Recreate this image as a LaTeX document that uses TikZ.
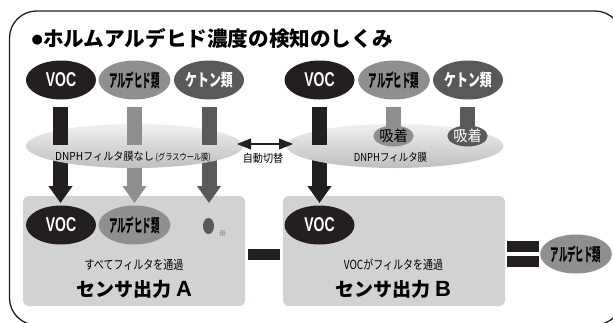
\documentclass[tikz,border=0pt]{standalone}
\usepackage{fontspec}
\setmainfont{Noto Sans CJK JP}
\newfontfamily\latinbold{Liberation Sans}
\newfontfamily\symfont{DejaVu Sans}
\usetikzlibrary{arrows.meta,shapes.geometric}
\definecolor{cdark}{HTML}{231F20}
\definecolor{cmid}{HTML}{8E8F91}
\definecolor{cket}{HTML}{58595B}
\definecolor{cbox}{HTML}{D1D2D4}
\newcommand{\cond}[2]{\scalebox{#1}[1]{#2}}
\newcommand{\lblvoc}{\cond{0.70}{\fontsize{20}{20}\latinbold\bfseries VOC}}
\newcommand{\lblald}{\cond{0.47}{\fontsize{18}{18}\selectfont\bfseries アルデヒド類}}
\newcommand{\lblket}{\cond{0.70}{\fontsize{17}{17}\selectfont\bfseries ケトン類}}
\tikzset{
  x=1pt,y=-1pt,
  pill/.style={ellipse,inner sep=0pt,minimum width=70pt,minimum height=39pt,text centered},
  pvoc/.style={pill,fill=cdark,text=white},
  pald/.style={pill,fill=cmid,text=black},
  pket/.style={pill,fill=cket,text=white},
  filt/.style={ellipse,inner sep=0pt,minimum width=217pt,minimum height=44pt,top color=gray!12,bottom color=gray!50},
  sbox/.style={rectangle,rounded corners=6pt,fill=cbox,inner sep=0pt,minimum width=222pt,minimum height=110pt},
  bar/.style={line width=15pt},
  blockarrow/.style={line width=15pt,-{Triangle[width=23pt,length=17pt]}},
  sorb/.style={ellipse,inner sep=0pt,minimum width=37pt,minimum height=21pt,font=\fontsize{15}{15}\selectfont},
  small/.style={inner sep=0pt,font=\fontsize{11}{11}\selectfont},
  mid/.style={inner sep=0pt,font=\fontsize{12.5}{12.5}\selectfont},
  outp/.style={inner sep=0pt,font=\fontsize{19}{19}\selectfont\bfseries},
  op/.style={fill=cdark,inner sep=0pt,minimum width=32pt}
}
\begin{document}
\begin{tikzpicture}
\useasboundingbox (0,0) rectangle (613,322);
\clip (0,0) rectangle (613,322);
\fill[white] (0,0) rectangle (613,322);
\draw[line width=1.3pt,cdark,rounded corners=27pt] (9.5,11) rectangle (622,325);
\node[anchor=west,inner sep=0pt,font=\fontsize{20.6}{20.6}\selectfont\bfseries] (title) at (31.5,38) {\raisebox{2.5pt}{\symfont\fontsize{13}{13}\selectfont ●}ホルムアルデヒド濃度の検知のしくみ};

% boxes
\node[sbox] (boxa) at (134,251) {};
\node[sbox] (boxb) at (394,251) {};

% free ends
\coordinate (a1s) at (60.5,160); \coordinate (a1e) at (60.5,203);
\coordinate (a2s) at (134.5,160); \coordinate (a2e) at (134.5,203);
\coordinate (a3s) at (209,160); \coordinate (a3e) at (209,203);
\coordinate (b1s) at (319.5,160); \coordinate (b1e) at (319.5,203);
\draw[blockarrow,cdark] (a1s) -- (a1e);
\draw[blockarrow,cmid] (a2s) -- (a2e);
\draw[blockarrow,cket] (a3s) -- (a3e);
\draw[blockarrow,cdark] (b1s) -- (b1e);

% filters
\node[filt] (fa) at (134.5,146) {};
\node[filt] (fb) at (395,146) {};

% top row
\node[pvoc] (v1) at (61,80) {\lblvoc};
\node[pald] (l1) at (134.5,80) {\lblald};
\node[pket] (k1) at (209,80) {\lblket};
\node[pvoc] (v2) at (319.5,80) {\lblvoc};
\node[pald] (l2) at (394,80) {\lblald};
\node[pket] (k2) at (468,80) {\lblket};

% bars
\coordinate (t1) at (60.5,107); \coordinate (t1e) at (60.5,145);
\coordinate (t2) at (134.5,107); \coordinate (t2e) at (134.5,145);
\coordinate (t3) at (209,107); \coordinate (t3e) at (209,145);
\coordinate (t4) at (319.5,107); \coordinate (t4e) at (319.5,145);
\coordinate (t5) at (393.5,107);
\coordinate (t6) at (467.5,107);
\draw[bar,cdark] (t1) -- (t1e);
\draw[bar,cmid] (t2) -- (t2e);
\draw[bar,cket] (t3) -- (t3e);
\draw[bar,cdark] (t4) -- (t4e);

\draw[bar,cmid] (t5) -- (393.5,130);
\draw[bar,cket] (t6) -- (467.5,130);
\node[sorb,fill=cmid,text=black] (s1) at (393.5,136) {\cond{0.95}{吸着}};
\node[sorb,fill=cket,text=white] (s2) at (467.5,136) {\cond{0.95}{吸着}};

% filter labels
\node[small] (fla) at (133,157) {\cond{0.92}{DNPHフィルタ膜なし}\,\cond{0.8}{\fontsize{9}{9}\selectfont (グラスウール膜)}};
\node[small] (flb) at (390.5,157) {\cond{0.86}{DNPHフィルタ膜}};

% switch
\coordinate (swl) at (237,144); \coordinate (swr) at (293,144);
\draw[line width=1.2pt,cdark,{Triangle[width=11pt,length=14pt]}-{Triangle[width=11pt,length=14pt]}] (swl) -- (swr);
\node[small] (sw) at (263,158) {\cond{0.92}{自動切替}};

% lower ellipses
\node[pvoc] (v3) at (61,225) {\lblvoc};
\node[pald] (l3) at (134.5,225) {\lblald};
\node[ellipse,inner sep=0pt,minimum width=11pt,minimum height=16pt,fill=cket] (dot) at (208.5,226) {};
\node[inner sep=0pt,font=\fontsize{8}{8}\selectfont,text=cket] (mark) at (222.5,234) {※};
\node[pvoc] (v4) at (319.5,225) {\lblvoc};

% box labels
\node[mid] (ta) at (134,264.5) {\cond{0.8}{すべてフィルタを通過}};
\node[mid] (tb) at (393.5,264.5) {\cond{0.8}{VOCがフィルタを通過}};
\node[outp] (oa) at (134.5,289) {センサ出力 {\latinbold\bfseries\fontsize{22}{22}\selectfont A}};
\node[outp] (ob) at (393.5,289) {センサ出力 {\latinbold\bfseries\fontsize{22}{22}\selectfont B}};

% operators
\node[op,minimum height=11pt] (minus) at (264,254.5) {};
\node[op,minimum height=11pt] (eq1) at (523,246.5) {};
\node[op,minimum height=11pt] (eq2) at (523,261.5) {};
\node[pald] (l4) at (576,254) {\lblald};
\end{tikzpicture}
\end{document}
